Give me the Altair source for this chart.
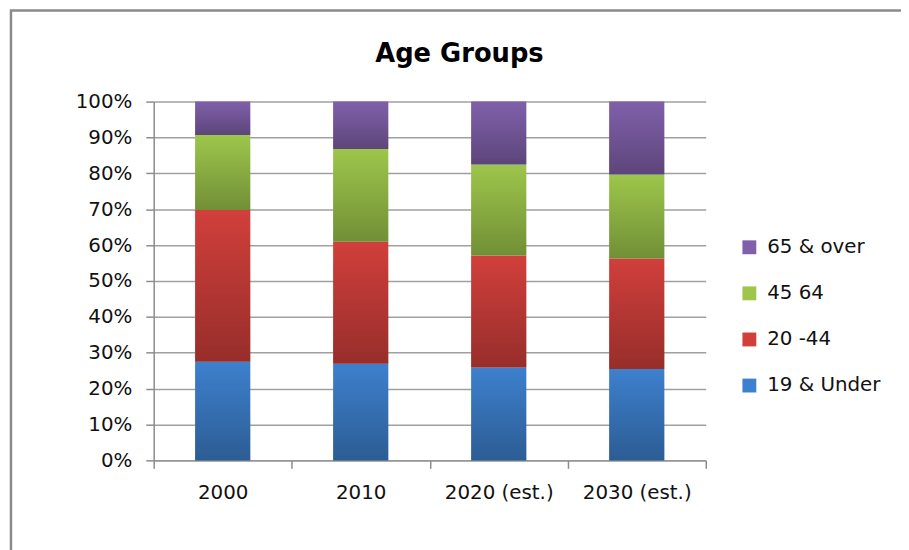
import altair as alt
import pandas as pd

years = ["2000", "2010", "2020 (est.)", "2030 (est.)"]
groups = ["19 & Under", "20 -44", "45 64", "65 & over"]
under19 = [27.5, 26.9, 25.9, 25.5]
age20_44 = [42.3, 34.0, 31.2, 30.8]
age45_64 = [20.9, 25.9, 25.4, 23.4]
over65 = [9.3, 13.2, 17.5, 20.3]
colors = ["#3d80cd", "#d13f3b", "#9dc64b", "#8060aa"]

series = [under19, age20_44, age45_64, over65]
rows = []
for gi, (g, vals) in enumerate(zip(groups, series)):
    for y, v in zip(years, vals):
        rows.append({"year": y, "group": g, "value": v, "order": gi})
df = pd.DataFrame(rows)

FONT = "DejaVu Sans"
tick_vals = [0.0, 0.1, 0.2, 0.3, 0.4, 0.5, 0.6, 0.7, 0.8, 0.9, 1.0]

x_enc = alt.X(
    "year:N",
    sort=years,
    scale=alt.Scale(paddingInner=0, paddingOuter=0),
    axis=alt.Axis(
        title=None, labelAngle=0, tickBand="extent", grid=False,
        domainColor="#8c8c8c", domainWidth=1.5, tickColor="#8c8c8c",
        tickWidth=1.5, tickSize=8, labelPadding=14, labelFont=FONT,
        labelFontSize=20, labelColor="#111111", labelOverlap=False,
    ),
)
y_enc = alt.Y(
    "value:Q",
    stack="normalize",
    scale=alt.Scale(domain=[0, 1]),
    axis=alt.Axis(
        title=None, format=".0%", values=tick_vals,
        grid=True, gridColor="#a0a0a0", gridWidth=1.5,
        domainColor="#8c8c8c", domainWidth=1.5, tickColor="#8c8c8c",
        tickWidth=1.5, tickSize=8, labelPadding=14, labelFont=FONT,
        labelFontSize=20, labelColor="#111111", labelOverlap=False,
    ),
)

base = alt.Chart(df).mark_bar(width=alt.RelativeBandSize(0.4)).encode(
    x=x_enc,
    y=y_enc,
    color=alt.Color(
        "group:N",
        scale=alt.Scale(domain=groups[::-1], range=colors[::-1]),
        legend=alt.Legend(
            title=None, orient="none", legendX=591, legendY=137,
            symbolType="square", symbolSize=196, symbolStrokeWidth=0,
            symbolOpacity=1, labelFont=FONT, labelFontSize=20,
            labelColor="#111111", rowPadding=26.5, labelOffset=8,
        ),
    ),
    order=alt.Order("order:Q", sort="ascending"),
)

shade = alt.Chart(df).mark_bar(
    width=alt.RelativeBandSize(0.4),
    color=alt.Gradient(
        gradient="linear",
        stops=[
            alt.GradientStop(color="rgba(0,0,0,0)", offset=0),
            alt.GradientStop(color="rgba(0,0,0,0.28)", offset=1),
        ],
        x1=0, x2=0, y1=0, y2=1,
    ),
).encode(
    x=x_enc,
    y=y_enc,
    detail="group:N",
    order=alt.Order("order:Q", sort="ascending"),
)

frame = alt.Chart(pd.DataFrame({"a": [0]})).mark_rect(
    fillOpacity=0, stroke="#8a8a8a", strokeWidth=2.5
).encode(
    x=alt.value(-144), x2=alt.value(800), y=alt.value(-92), y2=alt.value(500)
)

chart = alt.layer(frame, base, shade).properties(
    width=557,
    height=362,
    padding={"left": 147, "top": 92, "right": 197, "bottom": 88},
    autosize=alt.AutoSizeParams(type="none"),
    title=alt.TitleParams(
        "Age Groups", font=FONT, fontSize=26, fontWeight="bold",
        color="#000000", anchor="middle", frame="group", dx=30,
        offset=-58,
    ),
).configure_view(stroke=None)

chart.save("out.html", embed_options={"renderer": "svg", "actions": False})
